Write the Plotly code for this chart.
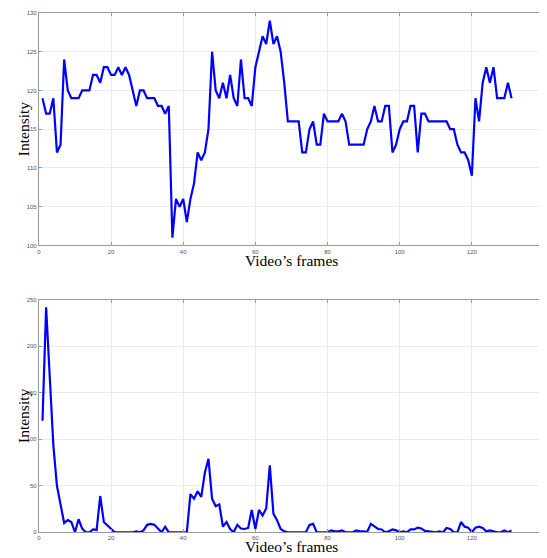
import plotly.graph_objects as go

frames = list(range(1, 132))

intensity_top = [
    119, 117, 117, 119, 112, 113, 124, 120, 119, 119,
    119, 120, 120, 120, 122, 122, 121, 123, 123, 122,
    122, 123, 122, 123, 122, 120, 118, 120, 120, 119,
    119, 119, 118, 118, 117, 118, 101, 106, 105, 106,
    103, 106, 108, 112, 111, 112, 115, 125, 120, 119,
    121, 119, 122, 119, 118, 124, 119, 119, 118, 123,
    125, 127, 126, 129, 126, 127, 125, 121, 116, 116,
    116, 116, 112, 112, 115, 116, 113, 113, 117, 116,
    116, 116, 116, 117, 116, 113, 113, 113, 113, 113,
    115, 116, 118, 116, 116, 118, 118, 112, 113, 115,
    116, 116, 118, 118, 112, 117, 117, 116, 116, 116,
    116, 116, 116, 115, 115, 113, 112, 112, 111, 109,
    119, 116, 121, 123, 121, 123, 119, 119, 119, 121, 119,
]

intensity_bottom = [
    120, 242, 168, 94, 50, 30, 10, 13, 11, 0,
    14, 4, 0, 0, 3, 2.5, 39, 11, 7, 3,
    0, 0, 0, 0, 0, 0, 1, 0, 2, 8,
    9, 8, 4, 0, 6, 0, 0, 0, 0, 0,
    0, 41, 36, 44, 38, 64, 79, 36, 28, 30,
    6, 11, 3.5, 0, 8, 4, 3.5, 4.6, 24, 3.5,
    24, 18, 25.5, 72, 20, 13, 3.5, 1, 0, 0,
    0, 0, 0, 0, 8, 9, 0, 0, 0, 0,
    2, 1, 1, 2, 0, 0, 0, 2, 1, 1,
    0.5, 9, 6, 3.5, 3, 0, 1, 3, 2, 0,
    1, 0, 3, 3, 5, 4, 1.5, 1, 1, 0,
    1, 0, 4.6, 3.5, 0, 0, 11, 6, 5, 0,
    5, 6, 4.6, 1, 2, 1, 0, 0, 2, 0, 2,
]

x_ticks = [0, 20, 40, 60, 80, 100, 120, 140]
top_y_ticks = [100, 105, 110, 115, 120, 125, 130]
bottom_y_ticks = [0, 50, 100, 150, 200, 250]

# page body margin (8px) offset compensation
OFF = 8
W, H = 547 - OFF, 558 - OFF
left, right = 37 - OFF, 544 - OFF
top_area = (10 - OFF, 245 - OFF)
bot_area = (300 - OFF, 535 - OFF)

fig = go.Figure()
fig.add_trace(go.Scatter(x=frames, y=intensity_top, mode="lines",
                         line=dict(color="#0000ff", width=2.2),
                         xaxis="x", yaxis="y", showlegend=False))
fig.add_trace(go.Scatter(x=frames, y=intensity_bottom, mode="lines",
                         line=dict(color="#0000ff", width=2.2),
                         xaxis="x2", yaxis="y2", showlegend=False))

tickfont = dict(family="Liberation Sans, Arial", size=6, color="#555555")
common_axis = dict(
    showline=True, linecolor="#9a9a9a", linewidth=1, mirror="ticks",
    ticks="inside", ticklen=3, tickcolor="#9a9a9a",
    showgrid=True, gridcolor="#ebebeb", gridwidth=1,
    zeroline=False, tickfont=tickfont,
)

xdom = [left / W, right / W]

def ydom(area):
    return [1 - area[1] / H, 1 - area[0] / H]

fig.update_layout(
    width=W, height=H,
    margin=dict(l=0, r=0, t=0, b=0),
    paper_bgcolor="white", plot_bgcolor="white",
    xaxis=dict(domain=xdom, range=[0, 140], tickvals=x_ticks, anchor="y", **common_axis),
    yaxis=dict(domain=ydom(top_area), range=[100, 130], tickvals=top_y_ticks, anchor="x", **common_axis),
    xaxis2=dict(domain=xdom, range=[0, 140], tickvals=x_ticks, anchor="y2", **common_axis),
    yaxis2=dict(domain=ydom(bot_area), range=[0, 250], tickvals=bottom_y_ticks, anchor="x2", **common_axis),
)

title_font = dict(family="Liberation Serif, Times New Roman, serif", size=15.5, color="#000000")
cx = (left + right) / 2 / W
for area, xlabel_y in [(top_area, 260 - OFF), (bot_area, 549 - OFF)]:
    fig.add_annotation(text="Intensity", xref="paper", yref="paper",
                       x=(21 - OFF) / W, y=1 - (area[0] + area[1]) / 2 / H,
                       textangle=-90, showarrow=False, font=title_font,
                       xanchor="center", yanchor="middle")
    fig.add_annotation(text="Video’s frames", xref="paper", yref="paper",
                       x=cx, y=1 - xlabel_y / H, showarrow=False, font=title_font,
                       xanchor="center", yanchor="middle")

fig.write_html("out.html")
